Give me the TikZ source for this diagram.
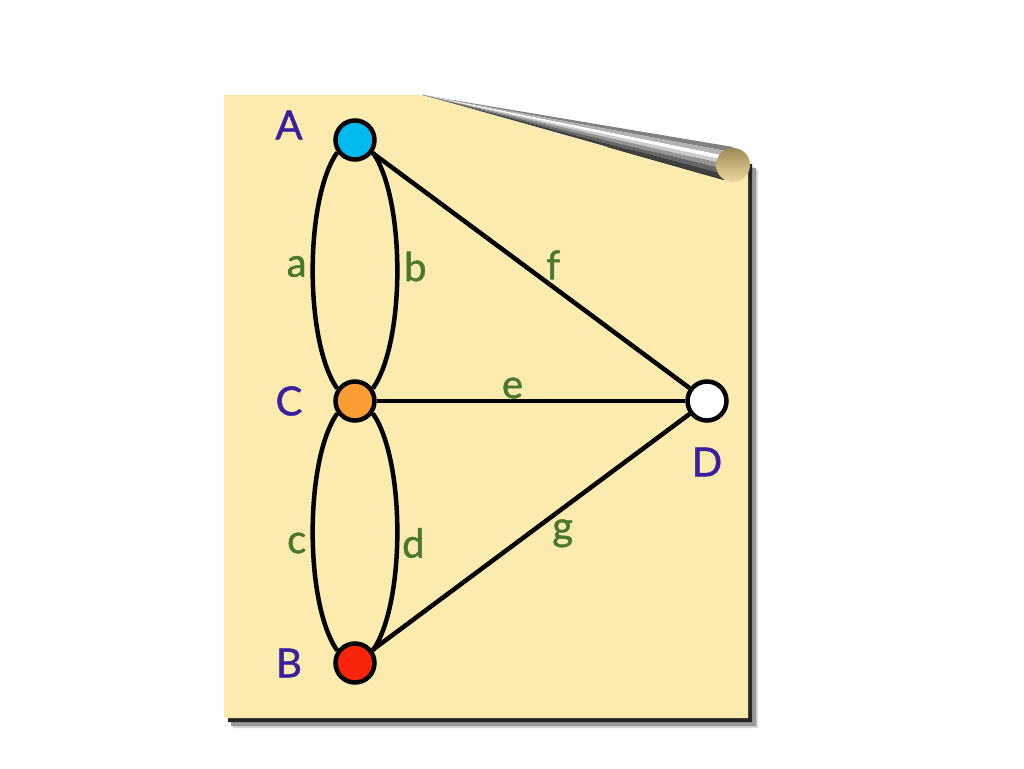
\documentclass[tikz,border=0pt]{standalone}
\usepackage{fontspec}
\setmainfont{Lato}[FakeBold=1.2]
\usepackage{tikz}
\usetikzlibrary{positioning}
\definecolor{Paper}{RGB}{252,235,174}
\definecolor{Sky}{RGB}{0,186,240}
\definecolor{Amber}{RGB}{250,158,52}
\definecolor{Scarlet}{RGB}{250,36,10}
\definecolor{Violet}{RGB}{58,32,158}
\definecolor{Olive}{RGB}{74,120,44}
\definecolor{CapDark}{RGB}{160,138,88}
\definecolor{CapLite}{RGB}{236,218,156}
\tikzset{%
  vertex/.style={%
    circle,%
    draw=black,%
    line width=4.5pt,%
    minimum size=39pt,%
    inner sep=0pt,%
  },
  vertex_label/.style={%
    text=Violet,%
    font={\fontsize{40}{40}\selectfont},%
    inner sep=0pt,%
  },
  edge_label/.style={%
    text=Olive,%
    font={\fontsize{40}{40}\selectfont},%
    inner sep=0pt,%
  },
  smooth_path/.style={%
    color=black,%
    line width=4.5pt,%
    line join=round,%
  },
  paper_sheet/.style={%
    fill=Paper,%
  },
  paper_shadow/.style={%
    fill=black!#1,%
  },
}

\begin{document}
\begin{tikzpicture}[x=1pt, y=1pt, on grid]

    \fill [white] (0,0) rectangle (1024,768);
    \useasboundingbox (0,0) rectangle (1024,768);

    % sheet, its shadow and the curl
    \fill [paper_shadow=15]
      (233,40) -- (233,660) -- (758,598) -- (758,40) -- cycle;
    \fill [paper_shadow=40]
      (231,42) -- (231,662) -- (756,600) -- (756,42) -- cycle;
    \fill [paper_shadow=85]
      (228,46) -- (228,666) -- (752,604) -- (752,46) -- cycle;
    \fill [paper_sheet]
      (224,50) -- (224,673) -- (423,673) -- (723,588) -- (748,600) -- (748,50) -- cycle;
    \foreach \s/\t/\c in {0/0.15/50, 0.15/0.3/30, 0.3/0.42/0, 0.42/0.55/20,
                          0.55/0.7/42, 0.7/0.85/60, 0.85/1/75}
      \fill [black!\c] (423,673) -- (733,{621-35*\s}) -- (733,{621-35*\t}) -- cycle;
    \shade [top color=CapDark, bottom color=CapLite] (733,603) circle [radius=17];

    \node [vertex, fill=Sky] (A) at (355,628) {};
    \node [vertex, fill=Amber, below = 261pt of A] (C) {};
    \node [vertex, fill=Scarlet, below = 262pt of C] (B) {};
    \node [vertex, fill=white, right = 352pt of C] (D) {};

    \node [vertex_label, above left = 15pt and 66pt of A] (A_label) {A};
    \node [vertex_label, left = 66pt of C] (C_label) {C};
    \node [vertex_label, left = 66pt of B] (B_label) {B};
    \node [vertex_label, below = 61pt of D] (D_label) {D};

    \draw [smooth_path]
      (A.215)
      .. controls +(235:57) and +(125:57) ..
      (C.145)
      node [edge_label, pos=0.5, xshift=-16pt, yshift=4pt] (lbl_a) {a};
    \draw [smooth_path]
      (A.325)
      .. controls +(305:57) and +(55:57) ..
      (C.35)
      node [edge_label, pos=0.5, xshift=18pt, yshift=4pt] (lbl_b) {b};
    \draw [smooth_path]
      (C.215)
      .. controls +(235:57) and +(125:57) ..
      (B.145)
      node [edge_label, pos=0.5, xshift=-16pt, yshift=-11pt] (lbl_c) {c};
    \draw [smooth_path]
      (C.325)
      .. controls +(305:57) and +(55:57) ..
      (B.35)
      node [edge_label, pos=0.5, xshift=16pt, yshift=-11pt] (lbl_d) {d};
    \draw [smooth_path]
      (A)
      --
      (D)
      node [edge_label, pos=0.57, yshift=22pt] (lbl_f) {f};
    \draw [smooth_path]
      (C)
      --
      (D)
      node [edge_label, pos=0.44, yshift=13pt] (lbl_e) {e};
    \draw [smooth_path]
      (B)
      --
      (D)
      node [edge_label, pos=0.60, yshift=-25pt] (lbl_g) {g};
  \end{tikzpicture}
\end{document}
